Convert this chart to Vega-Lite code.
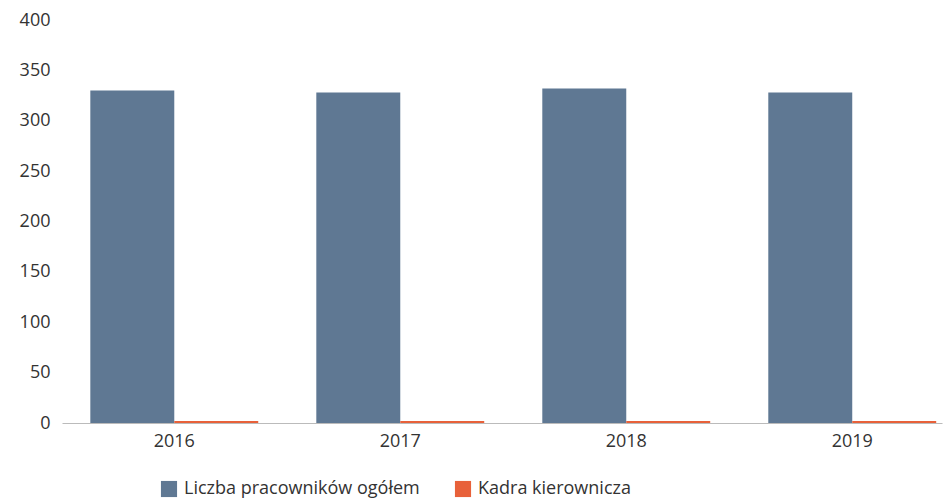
{
  "$schema": "https://vega.github.io/schema/vega-lite/v6.json",
  "autosize": "none",
  "width": 880,
  "height": 403,
  "padding": {"left": 62, "top": 20, "right": 2, "bottom": 80},
  "background": "white",
  "data": {"values": [
    {"rok": "2016", "seria": "Liczba pracowników ogółem", "wartosc": 330},
    {"rok": "2016", "seria": "Kadra kierownicza", "wartosc": 2},
    {"rok": "2017", "seria": "Liczba pracowników ogółem", "wartosc": 328},
    {"rok": "2017", "seria": "Kadra kierownicza", "wartosc": 2},
    {"rok": "2018", "seria": "Liczba pracowników ogółem", "wartosc": 332},
    {"rok": "2018", "seria": "Kadra kierownicza", "wartosc": 2},
    {"rok": "2019", "seria": "Liczba pracowników ogółem", "wartosc": 328},
    {"rok": "2019", "seria": "Kadra kierownicza", "wartosc": 2}
  ]},
  "mark": {"type": "bar"},
  "encoding": {
    "x": {"field": "rok", "type": "nominal", "title": null,
      "scale": {"paddingInner": 0.257, "paddingOuter": 0.0755, "align": 0.83},
      "axis": {"labelAngle": 0, "labelFont": "Open Sans", "labelFontSize": 18, "labelColor": "#333", "labelPadding": 9, "ticks": false, "domainColor": "#bbb", "domainWidth": 1}},
    "xOffset": {"field": "seria", "sort": ["Liczba pracowników ogółem", "Kadra kierownicza"]},
    "y": {"field": "wartosc", "type": "quantitative", "title": null,
      "scale": {"domain": [0, 400]},
      "axis": {"values": [0, 50, 100, 150, 200, 250, 300, 350, 400], "grid": false, "domain": false, "ticks": false, "labelFont": "Open Sans", "labelFontSize": 18, "labelColor": "#333", "labelPadding": 12}},
    "color": {"field": "seria", "type": "nominal", "title": null,
      "sort": ["Liczba pracowników ogółem", "Kadra kierownicza"],
      "scale": {"domain": ["Liczba pracowników ogółem", "Kadra kierownicza"], "range": ["#5f7893", "#e8613a"]},
      "legend": {"orient": "none", "legendX": 98, "legendY": 460, "direction": "horizontal", "symbolType": "square", "symbolSize": 260, "labelFont": "Open Sans", "labelFontSize": 18, "labelColor": "#333", "labelLimit": 500, "columnPadding": 34, "symbolOffset": 0, "labelOffset": 6}}
  },
  "config": {"view": {"stroke": null}}
}
